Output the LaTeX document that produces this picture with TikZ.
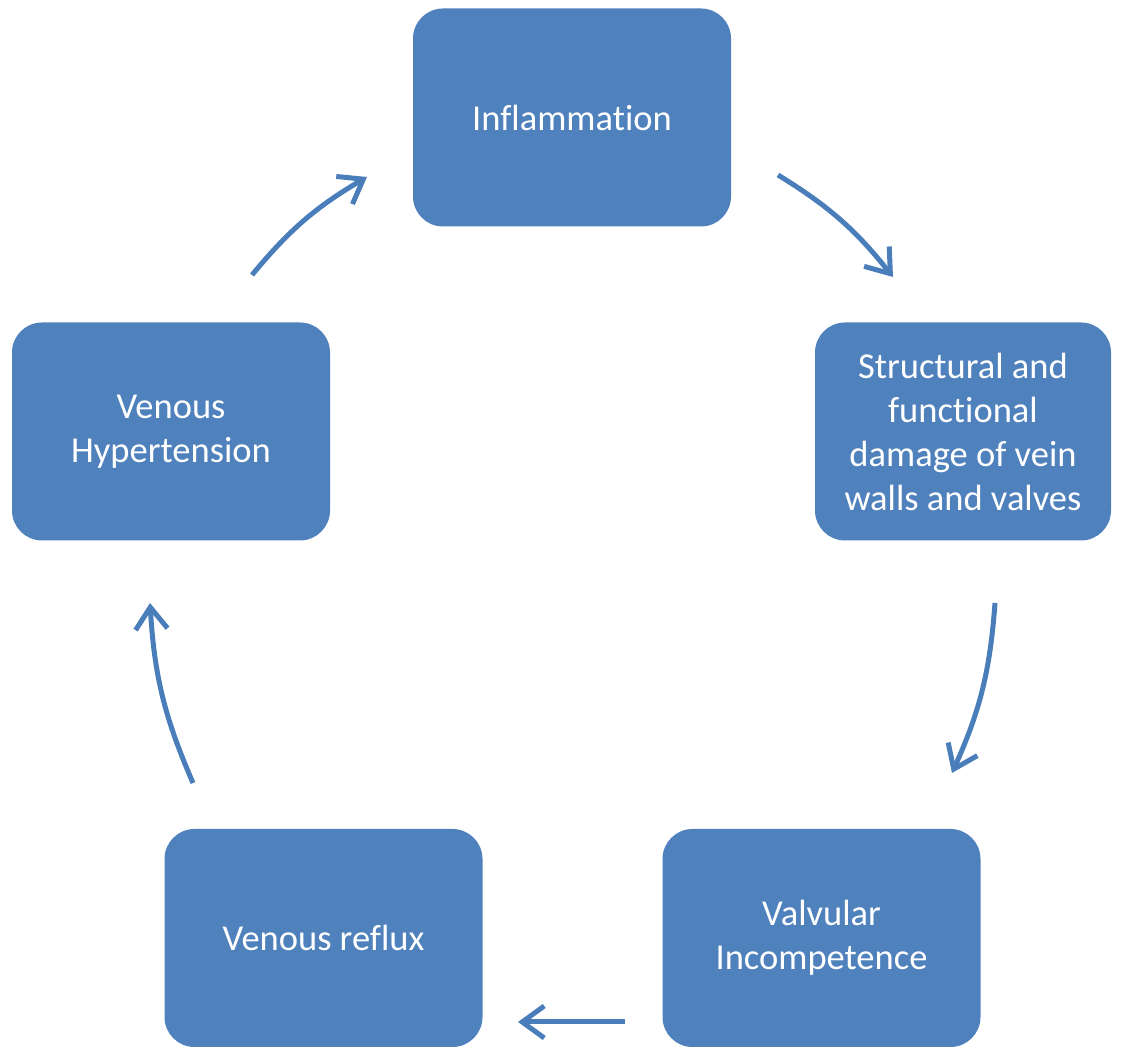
\documentclass[tikz,border=0pt]{standalone}
\usepackage{fontspec}
\setmainfont{Carlito}[Ligatures=NoCommon]
\usetikzlibrary{arrows.meta}
\definecolor{boxblue}{HTML}{4F81BD}
\definecolor{arrowblue}{HTML}{4A7EBB}
\begin{document}
\begin{tikzpicture}[x=1pt,y=1pt]
	\tikzstyle{none}=[inner sep=0pt]
	\tikzstyle{box}=[rectangle, rounded corners=30pt, fill=boxblue, text=white, inner sep=0pt, minimum width=318pt, minimum height=218pt, align=center, font=\fontsize{36.5}{44}\selectfont]
	\tikzstyle{arrow1}=[-{Straight Barb[length=22pt,width=32pt]}, draw=arrowblue, line width=5pt]
		\useasboundingbox (0,0) rectangle (1136,1051);
		\node [style=box] (0) at (572, 933.5) {Inflammation};
		\node [style=box, minimum width=296pt] (1) at (963, 619.5) {Structural and\\functional\\damage of vein\\walls and valves};
		\node [style=box] (2) at (821.5, 113) {Valvular\\Incompetence};
		\node [style=box] (3) at (323.5, 113) {Venous reflux};
		\node [style=box] (4) at (171, 619.5) {Venous\\Hypertension};
		\node [style=none] (5) at (252, 776) {};
		\node [style=none] (6) at (367, 874) {};
		\node [style=none] (7) at (778, 876) {};
		\node [style=none] (8) at (893, 774) {};
		\node [style=none] (9) at (995, 448) {};
		\node [style=none] (10) at (952, 278) {};
		\node [style=none] (11) at (625, 29) {};
		\node [style=none] (12) at (518, 29) {};
		\node [style=none] (13) at (193, 268) {};
		\node [style=none] (14) at (150, 448) {};

		\draw [style=arrow1, bend left=10] (5.center) to (6.center);
		\draw [style=arrow1, bend left=10] (7.center) to (8.center);
		\draw [style=arrow1, bend left=10] (9.center) to (10.center);
		\draw [style=arrow1] (11.center) to (12.center);
		\draw [style=arrow1, bend left=10] (13.center) to (14.center);

\end{tikzpicture}
\end{document}
